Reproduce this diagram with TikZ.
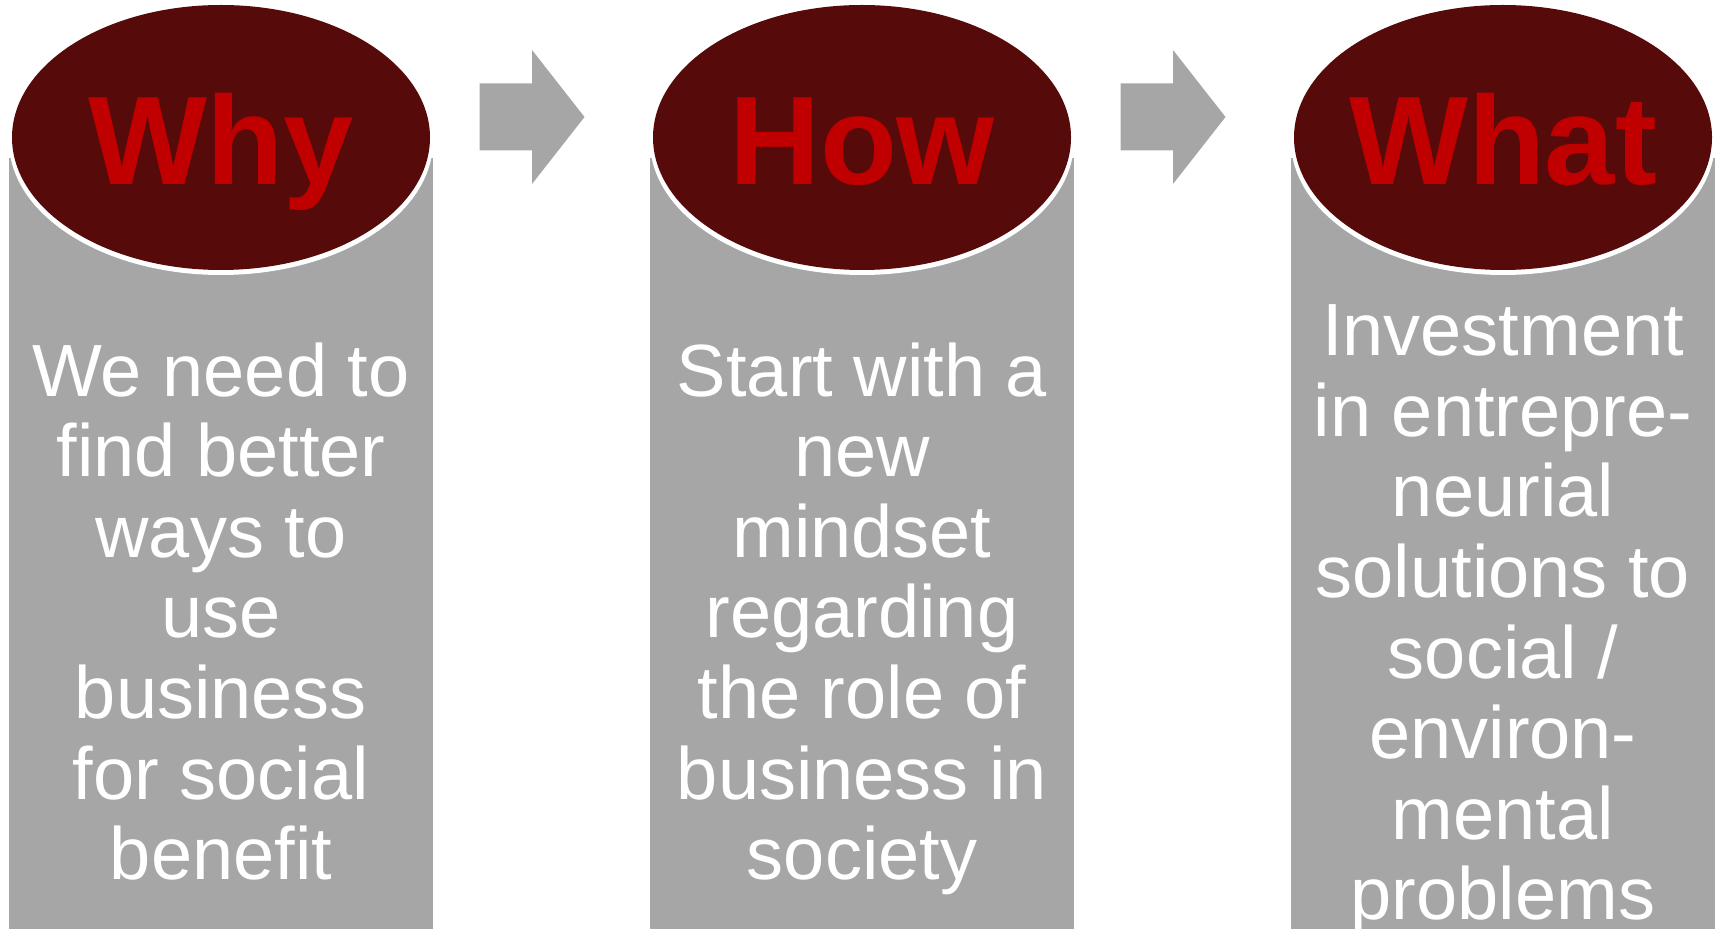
\documentclass[tikz,border=0pt]{standalone}
\usepackage{fontspec}
\setmainfont{Liberation Sans}
\usetikzlibrary{shapes.geometric}
\definecolor{colgray}{HTML}{A6A6A6}
\definecolor{capred}{HTML}{560A0A}
\definecolor{titlered}{HTML}{C00000}
\tikzset{
  colbox/.style={rectangle, fill=colgray, minimum width=212pt, minimum height=400pt, inner sep=0pt, anchor=north},
  capring/.style={ellipse, fill=white, minimum width=212pt, minimum height=134pt, inner sep=0pt},
  capell/.style={ellipse, fill=capred, minimum width=209pt, minimum height=132.5pt, inner sep=0pt},
  titletext/.style={text=titlered, font=\fontsize{63}{70}\selectfont\bfseries, inner sep=0pt, anchor=base},
  bodytext/.style={text=white, font=\fontsize{37}{40}\selectfont, inner sep=0pt, anchor=base},
  blockarrow/.style={fill=colgray}
}
\begin{document}
\begin{tikzpicture}[x=0.5pt,y=-0.5pt]
\useasboundingbox (0,0) rectangle (1717,929);
\clip (0,0) rectangle (1717,929);
% columns
\node[colbox] (r1) at (221,158) {};
\node[colbox] (r2) at (862,158) {};
\node[colbox] (r3) at (1503,158) {};
% caps: white rim then dark ellipse
\node[capring] (w1) at (221,141) {};
\node[capring] (w2) at (862,141) {};
\node[capring] (w3) at (1503,141) {};
\node[capell] (e1) at (221,137.5) {};
\node[capell] (e2) at (862,137.5) {};
\node[capell] (e3) at (1503,137.5) {};
% titles
\node[titletext] (t1) at (221,185) {Why};
\node[titletext] (t2) at (862,185) {How};
\node[titletext] (t3) at (1503,185) {What};
% arrows
\coordinate (a1) at (479.5,117);
\coordinate (a2) at (1120.5,117);
\foreach \a in {a1,a2}{
  \fill[blockarrow] (\a) ++(0,-33.5) -- ++(52.5,0) -- ++(0,-33.5) -- ++(52.5,67) -- ++(-52.5,67) -- ++(0,-33.5) -- ++(-52.5,0) -- cycle;
}
% body texts
\foreach \t [count=\i] in {We need to, find better, ways to, use, business, for social, benefit}
  \node[bodytext] (ba\i) at (221,{396.5+(\i-1)*80.5}) {\t};
\foreach \t [count=\i] in {Start with a, new, mindset, regarding, the role of, business in, society}
  \node[bodytext] (bb\i) at (862,{396.5+(\i-1)*80.5}) {\t};
\foreach \t [count=\i] in {Investment, in entrepre-, neurial, solutions to, social /, environ-, mental, problems}
  \node[bodytext] (bc\i) at (1503,{356+(\i-1)*80.5}) {\t};
\end{tikzpicture}
\end{document}
